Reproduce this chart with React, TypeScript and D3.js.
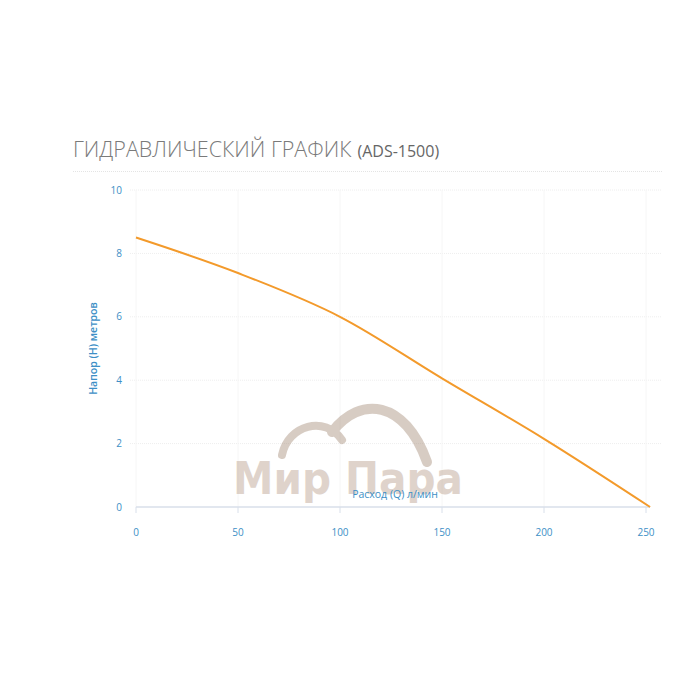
import React from "react";
import * as d3 from "d3";

const flowQ = [0, 50, 100, 150, 200, 252];
const headH = [8.5, 7.38, 6.0, 4.06, 2.15, 0];
const xTicks = [0, 50, 100, 150, 200, 250];
const yTicks = [0, 2, 4, 6, 8, 10];
const titleMain = "ГИДРАВЛИЧЕСКИЙ ГРАФИК";
const titleSub = "(ADS-1500)";
const xLabel = "Расход (Q) л/мин";
const yLabel = "Напор (H) метров";
const watermark = "Мир Пара";

export default function App() {
  const x = d3.scaleLinear().domain([0, 250]).range([136, 646]);
  const y = d3.scaleLinear().domain([0, 10]).range([507, 190]);
  const pts = flowQ.map((q, i) => [q, headH[i]] as [number, number]);
  const line = d3
    .line<[number, number]>()
    .x((d) => x(d[0]))
    .y((d) => y(d[1]))
    .curve(d3.curveMonotoneX);
  const blue = "#3d8fc6";
  const font = "'Open Sans', sans-serif";
  return (
    <svg
      width={700}
      height={700}
      style={{ position: "absolute", left: 0, top: 0, background: "#fff" }}
    >
      <text x={73} y={157} fontFamily={font} fontSize={21.5} fill="#7a7a7a" fontWeight={300}>
        {titleMain}
        <tspan fontSize={16} fill="#666" fontWeight={400} dx={6}>{titleSub}</tspan>
      </text>
      <line x1={73} x2={662} y1={171.5} y2={171.5} stroke="#e4e4e4" strokeDasharray="1,1" />
      {yTicks.map((t) => (
        <g key={"y" + t}>
          {t > 0 && (
            <line x1={130} x2={662} y1={y(t)} y2={y(t)} stroke="#eeeeee" strokeDasharray="1,1" />
          )}
          <text x={122} y={y(t)} dy="0.35em" textAnchor="end" fontFamily={font} fontSize={10} fill={blue}>
            {t}
          </text>
        </g>
      ))}
      {xTicks.map((t) => (
        <g key={"x" + t}>
          <line x1={x(t)} x2={x(t)} y1={190} y2={507} stroke="#f6f6f6" />
          <line x1={x(t)} x2={x(t)} y1={507} y2={513} stroke="#d8dfea" />
          <text x={x(t)} y={532} dy="0.35em" textAnchor="middle" fontFamily={font} fontSize={10} fill={blue}>
            {t}
          </text>
        </g>
      ))}
      <line x1={136} x2={650} y1={507} y2={507} stroke="#d8dfea" strokeWidth={1.5} />
      <g opacity={0.45}>
        <path d="M282,455 C288,425 325,415 342,440" fill="none" stroke="#a88f7c" strokeWidth={8} strokeLinecap="round" />
        <path d="M332,432 C360,395 405,400 427,462" fill="none" stroke="#a88f7c" strokeWidth={10} strokeLinecap="round" />
        <text x={233} y={494} fontFamily="'DejaVu Sans', sans-serif" fontWeight="bold" fontSize={45} fill="#b9a08d" textLength={230} lengthAdjust="spacingAndGlyphs">
          {watermark}
        </text>
      </g>
      <text x={395} y={498} textAnchor="middle" fontFamily={font} fontSize={10.5} fill={blue}>
        {xLabel}
      </text>
      <text
        transform={`translate(97,${y(5)}) rotate(-90)`}
        textAnchor="middle"
        fontFamily={font}
        fontSize={10.5}
        fontWeight={600}
        fill={blue}
      >
        {yLabel}
      </text>
      <path d={line(pts) || ""} fill="none" stroke="#f39a2b" strokeWidth={2} />
    </svg>
  );
}
